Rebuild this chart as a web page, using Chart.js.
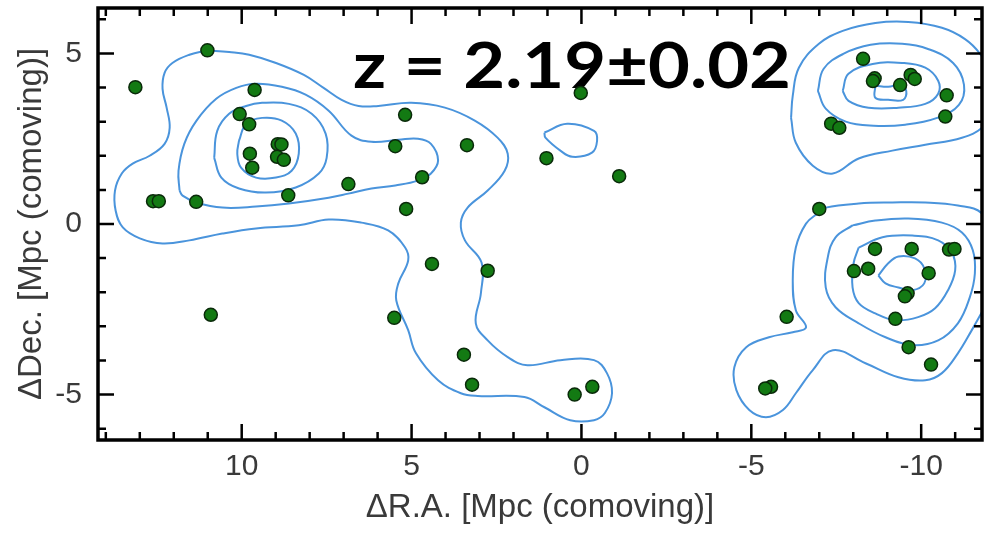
<!DOCTYPE html>
<html>
<head>
<meta charset="utf-8">
<script src="https://cdn.jsdelivr.net/npm/chart.js@4.4.1/dist/chart.umd.min.js"></script>
<style>
  html, body { margin: 0; padding: 0; background: #fff; }
  canvas { display: block; }
</style>
</head>
<body>
<canvas id="map" width="990" height="536"></canvas>
<script>
  // axis ranges and tick labels
  const raLimits = [-11.79, 14.23];
  const decLimits = [-6.33, 6.33];
  const xTickValues = [10, 5, 0, -5, -10];
  const yTickValues = [5, 0, -5];
  const redshiftLabel = 'z = 2.19\u00b10.02';

  // member galaxies (green dots)
  const galaxyRA = [13.13, 11.01, 9.62, 10.06, 9.78, 8.94, 8.83, 9.76, 8.96, 8.76, 9.69, 8.63, 12.61, 12.44, 11.34, 6.86, 10.91,
    5.19, 5.48, 3.37, 4.69, 5.16, 4.40, 2.76, 5.51, 3.46, 3.22, 0.20, -0.32, 0.02, 1.03, -1.11,
    -8.29, -8.63, -8.58, -9.38, -9.69, -9.81, -10.75, -10.71, -7.35, -7.59,
    -7.00, -8.64, -9.72, -10.82, -10.98, -8.02, -8.44, -10.22, -9.60, -9.52, -9.24, -6.04, -9.63, -10.29, -5.58, -5.41];
  const galaxyDec = [4.01, 5.09, 3.93, 3.22, 2.92, 2.34, 2.33, 2.06, 1.97, 1.88, 1.65, 0.84, 0.67, 0.67, 0.65, 1.17, -2.66,
    3.20, 2.28, 2.31, 1.37, 0.44, -1.17, -1.37, -2.75, -3.83, -4.71, -5.00, -4.77, 3.84, 1.93, 1.40,
    4.84, 4.27, 4.19, 4.07, 4.37, 4.25, 3.77, 3.15, 2.94, 2.82,
    0.44, -0.73, -0.73, -0.75, -0.73, -1.38, -1.31, -1.44, -2.03, -2.12, -2.78, -2.72, -3.61, -4.12, -4.77, -4.82];

  // density contours, [RA, Dec] vertices
  const westOuter = [[11.01,5.09],[10.37,5.04],[9.78,4.96],[8.99,4.72],[8.17,4.37],[7.59,3.99],[7.06,3.64],[6.56,3.46],[5.98,3.46],[5.01,3.55],[4.02,3.41],[3.14,3.03],[2.47,2.53],[2.17,2.06],[2.26,1.56],[2.76,0.98],[3.35,0.48],[3.55,0.04],[3.43,-0.48],[2.94,-1.13],[2.96,-2.03],[3.11,-2.91],[2.76,-3.41],[2.17,-3.90],[1.59,-4.14],[0.62,-3.99],[-0.37,-3.99],[-0.75,-4.37],[-0.90,-4.96],[-0.69,-5.54],[-0.37,-5.75],[0.33,-5.75],[1.09,-5.37],[1.68,-5.07],[3.05,-5.04],[3.55,-4.96],[4.22,-4.58],[4.87,-3.79],[5.10,-3.11],[5.45,-2.24],[5.39,-1.74],[5.10,-1.07],[5.19,-0.69],[5.69,-0.19],[6.48,0.04],[7.44,0.13],[8.32,-0.04],[9.58,-0.13],[10.57,-0.28],[11.54,-0.48],[12.33,-0.57],[13.0,-0.42],[13.5,-0.10],[13.71,0.39],[13.73,0.98],[13.53,1.48],[13.21,1.77],[12.71,2.0],[12.27,2.35],[12.12,2.82],[12.21,3.41],[12.33,3.96],[12.27,4.43],[12.04,4.72],[11.54,4.96],[11.01,5.09]];
  const westLevel2 = [[11.83,0.98],[11.86,1.56],[11.69,2.35],[11.33,3.03],[10.75,3.67],[10.16,3.99],[9.58,4.11],[8.82,4.02],[8.12,3.79],[7.44,3.32],[6.77,2.59],[6.18,2.41],[5.39,2.47],[4.81,2.5],[4.43,2.35],[4.22,1.86],[4.43,1.48],[4.81,1.27],[5.48,1.13],[6.18,1.04],[6.86,0.89],[7.44,0.77],[8.61,0.6],[9.58,0.51],[10.57,0.48],[11.33,0.63],[11.74,0.83],[11.83,0.98]];
  const westLevel3 = [[10.81,1.94],[10.72,2.73],[10.37,3.23],[9.87,3.46],[9.40,3.55],[8.61,3.52],[7.94,3.23],[7.53,2.65],[7.50,1.94],[7.73,1.48],[8.41,1.07],[9.29,0.92],[10.08,1.04],[10.60,1.36],[10.81,1.94]];
  const westLevel4 = [[10.08,2.44],[9.87,2.94],[9.40,3.11],[8.82,3.03],[8.41,2.65],[8.32,2.06],[8.53,1.56],[8.99,1.36],[9.58,1.36],[10.02,1.65],[10.13,2.06],[10.08,2.44]];
  const centreLoop = [[1.09,2.68],[0.42,2.94],[-0.37,2.73],[-0.46,2.44],[-0.31,2.09],[0.27,1.97],[0.62,2.15],[1.06,2.53],[1.09,2.68]];
  const northEastOuter = [[-6.17,3.11],[-6.22,3.76],[-6.40,4.58],[-6.99,5.28],[-7.69,5.66],[-8.65,5.89],[-9.62,5.92],[-10.61,5.75],[-11.29,5.42],[-11.73,4.99],[-12.08,4.34],[-12.08,3.32],[-11.79,2.82],[-11.2,2.53],[-10.12,2.32],[-9.15,2.15],[-8.16,1.92],[-7.40,1.48],[-6.81,1.71],[-6.31,2.38],[-6.17,3.11]];
  const northEastLevel2 = [[-6.96,3.90],[-7.13,4.55],[-7.72,4.99],[-8.51,5.25],[-9.44,5.28],[-10.20,5.13],[-10.94,4.72],[-11.26,4.08],[-11.11,3.49],[-10.47,3.11],[-9.53,2.91],[-8.60,2.88],[-7.78,3.0],[-7.19,3.38],[-6.96,3.90]];
  const northEastLevel3 = [[-7.69,3.90],[-7.86,4.40],[-8.57,4.69],[-9.44,4.72],[-10.12,4.58],[-10.50,4.20],[-10.50,3.82],[-10.12,3.52],[-9.33,3.41],[-8.45,3.41],[-7.86,3.61],[-7.69,3.90]];
  const northEastLevel4 = [[-8.65,4.05],[-8.65,3.70],[-9.03,3.64],[-9.47,3.64],[-9.56,3.90],[-9.39,4.08],[-9.03,4.02],[-8.65,4.05]];
  const southEastOuter = [[-6.99,0.34],[-7.19,0.48],[-8.16,0.6],[-9.15,0.63],[-10.12,0.63],[-11.08,0.54],[-11.79,0.31],[-12.17,-0.48],[-12.17,-1.94],[-11.87,-2.44],[-11.49,-3.11],[-11.08,-3.79],[-10.61,-4.37],[-10.12,-4.58],[-9.33,-4.49],[-8.36,-4.08],[-7.40,-3.70],[-6.81,-4.28],[-6.31,-4.96],[-5.93,-5.45],[-5.43,-5.66],[-4.94,-5.45],[-4.56,-4.87],[-4.50,-4.20],[-4.85,-3.61],[-5.52,-3.32],[-6.22,-3.17],[-6.61,-3.03],[-6.31,-2.53],[-6.22,-1.65],[-6.31,-0.69],[-6.61,0.01],[-6.99,0.34]];
  const southEastLevel2 = [[-7.98,-0.04],[-8.65,0.10],[-9.62,0.16],[-10.61,0.04],[-11.2,-0.25],[-11.52,-0.77],[-11.58,-1.45],[-11.43,-2.15],[-11.08,-2.91],[-10.50,-3.41],[-9.74,-3.55],[-8.95,-3.32],[-8.16,-2.91],[-7.48,-2.44],[-7.19,-1.86],[-7.25,-0.98],[-7.48,-0.39],[-7.98,-0.04]];
  const southEastLevel3 = [[-8.16,-0.69],[-8.86,-0.39],[-9.74,-0.34],[-10.50,-0.48],[-10.91,-0.86],[-11.0,-1.36],[-10.79,-1.94],[-10.41,-2.47],[-9.91,-2.73],[-9.24,-2.82],[-8.65,-2.62],[-8.16,-2.32],[-7.98,-1.86],[-8.01,-1.15],[-8.16,-0.69]];
  const southEastLevel4 = [[-8.74,-1.51],[-9.03,-1.15],[-9.33,-0.95],[-9.82,-1.01],[-10.09,-1.30],[-10.09,-1.74],[-9.74,-1.94],[-9.33,-1.86],[-8.95,-1.74],[-8.74,-1.51]];

  const contours = [westOuter, westLevel2, westLevel3, westLevel4, centreLoop,
    northEastOuter, northEastLevel2, northEastLevel3, northEastLevel4,
    southEastOuter, southEastLevel2, southEastLevel3, southEastLevel4];

  const labelColor = '#3a3a3a';

  // black box with inward ticks on all four sides
  const framePlugin = {
    id: 'frame',
    afterDraw(chart) {
      const { ctx, chartArea: a, scales: { x, y } } = chart;
      ctx.save();
      ctx.strokeStyle = '#000';
      ctx.lineWidth = 2.5;
      ctx.beginPath();
      for (let v = Math.ceil(x.min); v <= Math.floor(x.max); v++) {
        const px = x.getPixelForValue(v);
        const len = v % 5 === 0 ? 16 : 8;
        ctx.moveTo(px, a.bottom); ctx.lineTo(px, a.bottom - len);
        ctx.moveTo(px, a.top); ctx.lineTo(px, a.top + len);
      }
      for (let v = Math.ceil(y.min); v <= Math.floor(y.max); v++) {
        const py = y.getPixelForValue(v);
        const len = v % 5 === 0 ? 16 : 8;
        ctx.moveTo(a.left, py); ctx.lineTo(a.left + len, py);
        ctx.moveTo(a.right, py); ctx.lineTo(a.right - len, py);
      }
      ctx.stroke();
      ctx.lineWidth = 3.5;
      ctx.strokeRect(a.left, a.top, a.right - a.left, a.bottom - a.top);
      ctx.restore();
    }
  };

  // big redshift label inside the box
  const redshiftPlugin = {
    id: 'redshift',
    beforeDatasetsDraw(chart) {
      const { ctx } = chart;
      ctx.save();
      ctx.font = '700 64px Lato';
      ctx.fillStyle = '#000';
      ctx.textBaseline = 'alphabetic';
      const w = ctx.measureText(redshiftLabel).width;
      ctx.translate(353, 88);
      ctx.scale(438 / w, 1);
      ctx.fillText(redshiftLabel, 0, 0);
      ctx.restore();
    }
  };

  const datasets = [{
    label: 'galaxies',
    data: galaxyRA.map((ra, i) => ({ x: ra, y: galaxyDec[i] })),
    pointRadius: 6.5,
    pointBackgroundColor: '#137a13',
    pointBorderColor: '#0a2a0a',
    pointBorderWidth: 1.5
  }];
  contours.forEach((c, i) => {
    datasets.push({
      label: 'contour ' + i,
      data: c.map(([ra, dec]) => ({ x: ra, y: dec })),
      showLine: true,
      pointRadius: 0,
      borderColor: '#4a94dc',
      borderWidth: 2,
      tension: 0.4,
      fill: false
    });
  });

  new Chart(document.getElementById('map'), {
    type: 'scatter',
    data: { datasets },
    options: {
      responsive: false,
      animation: false,
      layout: { padding: { top: 7, right: 3, bottom: 0, left: 0 } },
      plugins: { legend: { display: false }, tooltip: { enabled: false } },
      scales: {
        x: {
          type: 'linear',
          reverse: true,
          min: raLimits[0],
          max: raLimits[1],
          afterBuildTicks: (s) => { s.ticks = xTickValues.map((v) => ({ value: v })); },
          afterFit: (s) => { s.height = 96; s.paddingLeft = 0; s.paddingRight = 0; },
          grid: { display: false, drawTicks: false },
          border: { display: false },
          ticks: { padding: 9, color: labelColor, font: { family: 'Liberation Sans', size: 30 } },
          title: {
            display: true,
            text: '\u0394R.A. [Mpc (comoving)]',
            color: labelColor,
            font: { family: 'Liberation Sans', size: 33 },
            padding: { top: 0, bottom: 8 }
          }
        },
        y: {
          type: 'linear',
          min: decLimits[0],
          max: decLimits[1],
          afterBuildTicks: (s) => { s.ticks = yTickValues.map((v) => ({ value: v })); },
          afterFit: (s) => { s.width = 98; s.paddingTop = 0; s.paddingBottom = 0; },
          grid: { display: false, drawTicks: false },
          border: { display: false },
          ticks: { padding: 16, color: labelColor, font: { family: 'Liberation Sans', size: 30 } },
          title: {
            display: true,
            text: '\u0394Dec. [Mpc (comoving)]',
            color: labelColor,
            font: { family: 'Liberation Sans', size: 33 },
            padding: { top: 12, bottom: 0 }
          }
        }
      }
    },
    plugins: [redshiftPlugin, framePlugin]
  });
</script>
</body>
</html>
